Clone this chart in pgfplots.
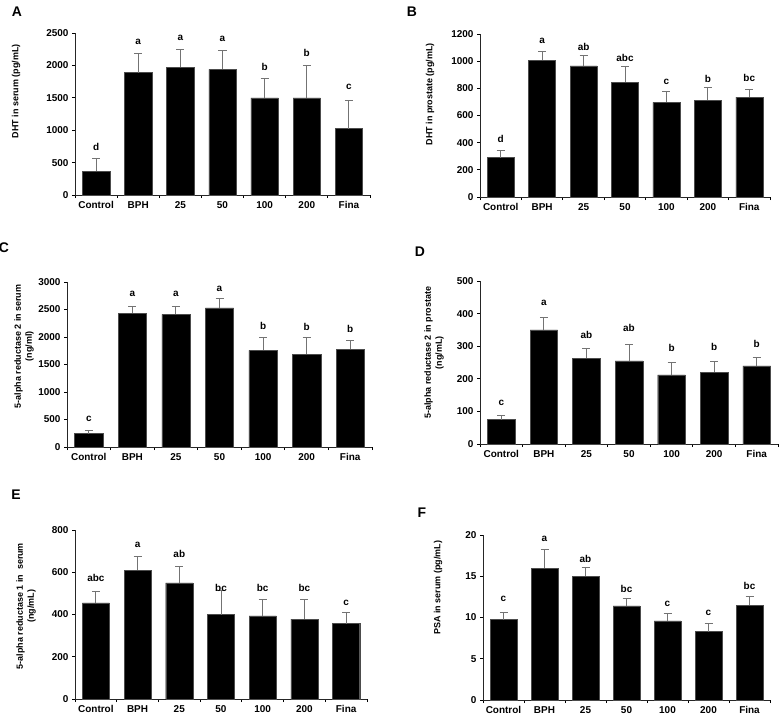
\documentclass[border=0pt]{standalone}
\usepackage{fontspec}
\setmainfont{Liberation Sans}
\usepackage{pgfplots}
\pgfplotsset{compat=1.18}

\pgfplotsset{
  panel/.style={
    scale only axis, anchor=south west,
    axis x line*=bottom, axis y line*=left,
    axis line style={-, line width=0.9pt, black!85},
    xmin=-0.5, xmax=6.5, ymin=0,
    xtick={0,...,6}, xticklabels={Control,BPH,25,50,100,200,Fina},
    major x tick style={draw=none},
    minor xtick={-0.5,0.5,1.5,2.5,3.5,4.5,5.5,6.5},
    minor x tick style={line width=0.8pt, black},
    major y tick style={line width=0.8pt, black},
    tick align=outside, major tick length=3bp, minor tick length=3bp,
    ticklabel style={font=\bfseries\fontsize{10}{12}\selectfont},
    /pgf/number format/assume math mode=true,
    /pgf/number format/1000 sep={},
  },
  ylab/.style 2 args={every axis y label/.style={at={(axis description cs:0,#1)},
    xshift=#2, rotate=90, anchor=center, align=center,
    font=\bfseries\fontsize{9}{11}\selectfont}},
  bars/.style={ybar, bar width=0.65, fill=black, draw=black!70, line width=0.4pt,
    error bars/.cd, y dir=plus, y explicit,
    error bar style={black!55, line width=0.9pt},
    error mark options={rotate=90, black!55, mark size=4bp, line width=0.9pt}},
  lett/.style={draw=none, mark=none, nodes near coords, point meta=explicit symbolic,
    nodes near coords style={font=\bfseries\fontsize{10}{12}\selectfont, anchor=center, inner sep=0pt}},
}
\newcommand{\plab}[3]{\node[font=\bfseries\fontsize{14}{16}\selectfont] at (#1bp,-#2bp) {#3};}

\begin{document}
\begin{tikzpicture}
\useasboundingbox (0,0) rectangle (779bp,-716bp);

% A
\begin{axis}[panel, at={(75bp,-195bp)}, width=295bp, height=162bp,
  ymax=2500, ytick={0,500,...,2500},
  ylabel={DHT in serum (pg/mL)}, ylab={0.64}{-59bp}]
\addplot[bars] coordinates {(0,370) +- (0,200) (1,1890) +- (0,290) (2,1975) +- (0,275)
  (3,1940) +- (0,285) (4,1500) +- (0,300) (5,1500) +- (0,500) (6,1025) +- (0,440)};
\addplot[lett] coordinates {(0,745)[d] (1,2356)[a] (2,2428)[a] (3,2403)[a]
  (4,1980)[b] (5,2186)[b] (6,1662)[c]};
\end{axis}

% B
\begin{axis}[panel, at={(480bp,-197bp)}, width=290bp, height=163bp,
  ymax=1200, ytick={0,200,...,1200},
  ylabel={DHT in prostate (pg/mL)}, ylab={0.63}{-50bp}]
\addplot[bars] coordinates {(0,290) +- (0,55) (1,1005) +- (0,65) (2,965) +- (0,75)
  (3,845) +- (0,115) (4,697) +- (0,81) (5,712) +- (0,93) (6,735) +- (0,55)};
\addplot[lett] coordinates {(0,425)[d] (1,1151)[a] (2,1107)[ab] (3,1021)[abc]
  (4,849)[c] (5,869)[b] (6,874)[bc]};
\end{axis}

% C
\begin{axis}[panel, at={(67bp,-447bp)}, width=305bp, height=165bp,
  ymax=3000, ytick={0,500,...,3000},
  ylabel={5-alpha reductase 2 in serum\\(ng/ml)}, ylab={0.61}{-43bp}]
\addplot[bars] coordinates {(0,245) +- (0,55) (1,2430) +- (0,130) (2,2410) +- (0,140)
  (3,2530) +- (0,170) (4,1755) +- (0,235) (5,1690) +- (0,305) (6,1775) +- (0,165)};
\addplot[lett] coordinates {(0,503)[c] (1,2776)[a] (2,2776)[a] (3,2867)[a]
  (4,2206)[b] (5,2176)[b] (6,2139)[b]};
\end{axis}

% D
\begin{axis}[panel, at={(480bp,-444bp)}, width=298bp, height=163bp,
  ymax=500, ytick={0,100,...,500},
  ylabel={5-alpha reductase 2 in prostate\\(ng/mL)}, ylab={0.56}{-46bp}]
\addplot[bars] coordinates {(0,75) +- (0,13) (1,350) +- (0,38) (2,263) +- (0,29)
  (3,255) +- (0,50) (4,212) +- (0,38) (5,220) +- (0,33) (6,240) +- (0,25)};
\addplot[lett] coordinates {(0,127)[c] (1,433)[a] (2,336)[ab] (3,357)[ab]
  (4,294)[b] (5,298)[b] (6,307)[b]};
\end{axis}

% E
\begin{axis}[panel, at={(75bp,-699bp)}, width=292bp, height=169bp,
  ymax=800, ytick={0,200,...,800},
  ylabel={5-alpha reductase 1 in\ \ serum\\(ng/mL)}, ylab={0.55}{-49bp}]
\addplot[bars] coordinates {(0,455) +- (0,55) (1,610) +- (0,65) (2,550) +- (0,78)
  (3,400) +- (0,115) (4,393) +- (0,79) (5,378) +- (0,92) (6,357) +- (0,53)};
\addplot[lett] coordinates {(0,574)[abc] (1,732)[a] (2,686)[ab] (3,524)[bc]
  (4,524)[bc] (5,524)[bc] (6,453)[c]};
\end{axis}

% F
\begin{axis}[panel, at={(483bp,-700bp)}, width=287bp, height=165bp,
  ymax=20, ytick={0,5,...,20},
  ylabel={PSA in serum (pg/mL)}, ylab={0.68}{-45bp}]
\addplot[bars] coordinates {(0,9.75) +- (0,0.9) (1,15.95) +- (0,2.35) (2,15.0) +- (0,1.1)
  (3,11.4) +- (0,0.9) (4,9.6) +- (0,0.9) (5,8.3) +- (0,1.0) (6,11.5) +- (0,1.05)};
\addplot[lett] coordinates {(0,12.2)[c] (1,19.5)[a] (2,17.05)[ab] (3,13.45)[bc]
  (4,11.7)[c] (5,10.6)[c] (6,13.85)[bc]};
\end{axis}

\plab{17}{12}{A}
\plab{412}{12}{B}
\plab{4}{248}{C}
\plab{420}{252}{D}
\plab{16}{495}{E}
\plab{422}{513}{F}
\end{tikzpicture}
\end{document}
